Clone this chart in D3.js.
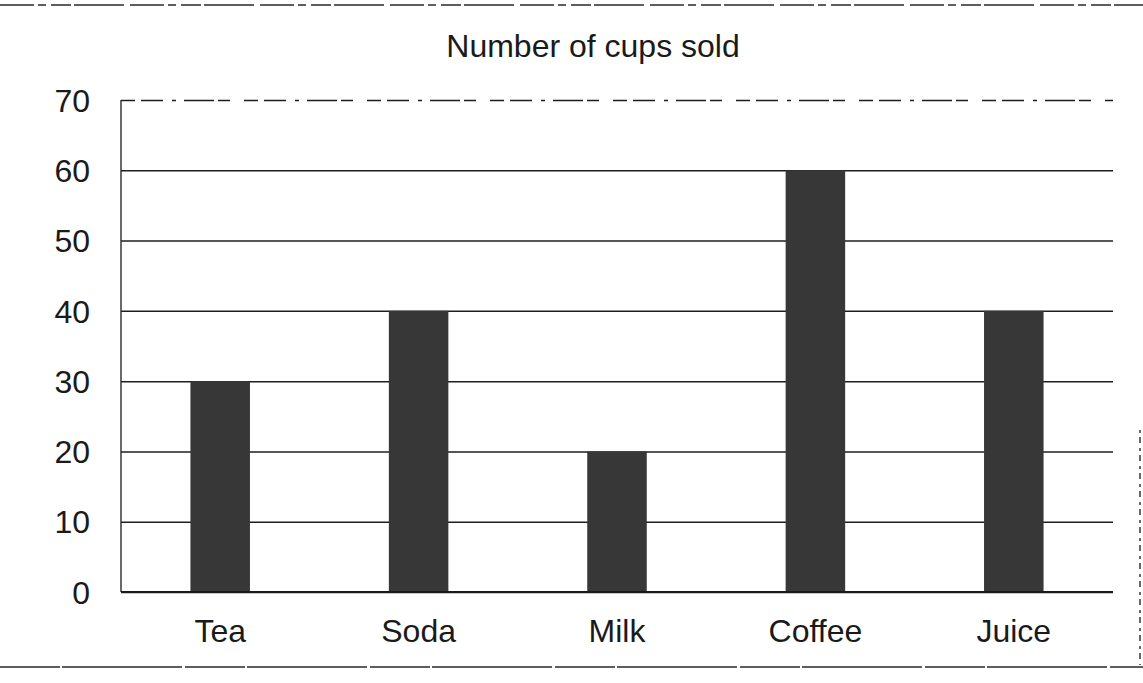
<!DOCTYPE html>
<html lang="en">
<head>
    <meta charset="UTF-8">
    <title>Number of cups sold</title>
    <script src="https://d3js.org/d3.v7.min.js"></script>
    <style>
        body {
            margin: 0;
            background: #ffffff;
        }

        #chart svg {
            display: block;
        }

        .grid line {
            stroke: #1e1e1e;
            stroke-width: 1.5;
        }

        .grid path {
            stroke-width: 0;
        }

        .axis-text {
            font-size: 32px;
            fill: #1a1a1a;
            font-family: "Liberation Sans", Arial, sans-serif;
        }

        .title {
            font-size: 32px;
            fill: #1a1a1a;
            font-family: "Liberation Sans", Arial, sans-serif;
        }

        .bar {
            fill: #373737;
        }

        .frame {
            stroke: #2a2a2a;
            stroke-width: 1.4;
            fill: none;
        }
    </style>
</head>
<body>
    <div id="chart"></div>
    <script>
        const drinks = ["Tea", "Soda", "Milk", "Coffee", "Juice"];
        const cupsSold = [30, 40, 20, 60, 40];
        const yTicks = [0, 10, 20, 30, 40, 50, 60, 70];
        const chartTitle = "Number of cups sold";

        const W = 1143, H = 683;
        const margin = { top: 100, right: 30, bottom: 91, left: 121 };
        const width = W - margin.left - margin.right;
        const height = H - margin.top - margin.bottom;

        const root = d3.select("#chart")
            .append("svg")
            .attr("width", W)
            .attr("height", H);

        // рамка скана: верх, низ и кусок справа
        root.append("line").attr("class", "frame")
            .attr("x1", 0).attr("x2", W).attr("y1", 5).attr("y2", 5)
            .attr("stroke-width", 1.1)
            .attr("stroke-dasharray", "34 4 8 5 20 3 50 6");
        root.append("line").attr("class", "frame")
            .attr("x1", 0).attr("x2", W).attr("y1", 667).attr("y2", 667)
            .attr("stroke-dasharray", "60 2 120 3");
        root.append("line").attr("class", "frame")
            .attr("x1", 1140).attr("x2", 1140).attr("y1", 430).attr("y2", 665)
            .attr("stroke-width", 1.2)
            .attr("stroke-dasharray", "3 4 6 5");

        root.append("text")
            .attr("class", "title")
            .attr("x", 593)
            .attr("y", 57)
            .attr("text-anchor", "middle")
            .text(chartTitle);

        const svg = root.append("g")
            .attr("transform", `translate(${margin.left},${margin.top})`);

        const x = d3.scaleBand()
            .domain(drinks)
            .range([0, width])
            .paddingInner(0.7)
            .paddingOuter(0.35);

        const y = d3.scaleLinear()
            .domain([0, 70])
            .range([height, 0]);

        // линии сетки
        const grid = svg.append("g")
            .attr("class", "grid")
            .call(d3.axisLeft(y)
                .tickValues(yTicks)
                .tickSize(-width)
                .tickFormat(""));

        grid.selectAll(".tick line")
            .filter(d => d === 70)
            .attr("stroke-width", 1)
            .attr("stroke-dasharray", "14 6 22 9 4 8 30 4 12 14");

        // левая ось
        svg.append("line")
            .attr("class", "frame")
            .attr("x1", 0).attr("x2", 0)
            .attr("y1", y(70)).attr("y2", y(0))
            .attr("stroke-width", 1.6);

        svg.selectAll(".bar")
            .data(drinks)
            .enter()
            .append("rect")
            .attr("class", "bar")
            .attr("x", d => x(d))
            .attr("width", x.bandwidth())
            .attr("y", (d, i) => y(cupsSold[i]))
            .attr("height", (d, i) => y(0) - y(cupsSold[i]));

        svg.append("line")
            .attr("x1", 0).attr("x2", width)
            .attr("y1", y(0)).attr("y2", y(0))
            .attr("stroke", "#1a1a1a")
            .attr("stroke-width", 2);

        // подписи оси Y
        const yAxis = svg.append("g")
            .call(d3.axisLeft(y).tickValues(yTicks).tickSize(0).tickPadding(31));
        yAxis.select(".domain").remove();
        yAxis.selectAll("text")
            .attr("class", "axis-text")
            .attr("dy", "0.35em");

        // подписи категорий
        const xAxis = svg.append("g")
            .attr("transform", `translate(0,${height})`)
            .call(d3.axisBottom(x).tickSize(0));
        xAxis.select(".domain").remove();
        xAxis.selectAll("text")
            .attr("class", "axis-text")
            .attr("y", 50)
            .attr("dy", 0);
    </script>
</body>
</html>
